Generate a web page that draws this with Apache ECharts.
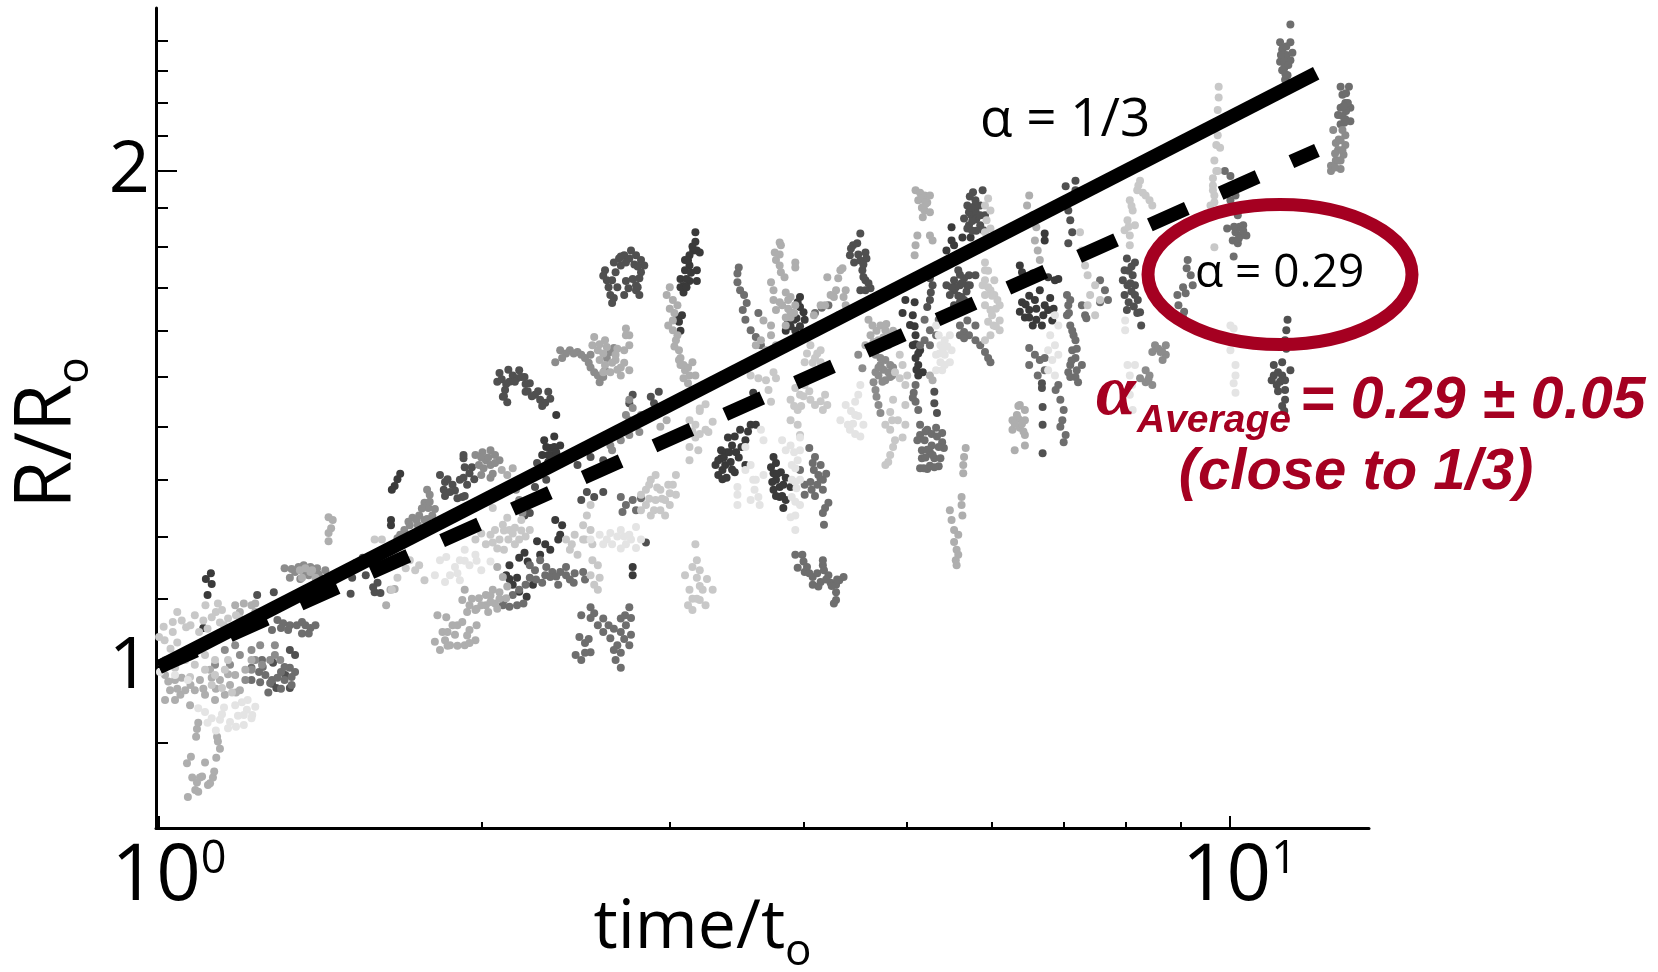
<!DOCTYPE html>
<html><head><meta charset="utf-8">
<style>html,body{margin:0;padding:0;background:#fff}#c{width:1658px;height:972px}</style>
<script src="https://cdn.jsdelivr.net/npm/echarts@6/dist/echarts.min.js"></script>
</head><body><div id="c"></div>
<script>
// Values: [time/t0, R/R0]
const gray1=[[1.118,1.14],[1.106,1.131],[1.12,1.123],[1.11,1.106],[1.10,1.056],[1.68,1.31],[1.67,1.30],[1.66,1.288],[1.65,1.281],[1.647,1.228],[1.647,1.219],[2.29,1.373],[2.34,1.38],[2.32,1.358],[2.37,1.363],[2.28,1.345],[2.33,1.345],[2.31,1.332],[2.35,1.422],[2.345,1.228],[2.38,1.219],[2.37,1.203],[2.36,1.195],[2.295,1.187],[2.32,1.178],[2.27,1.17],[2.255,1.192],[2.195,1.173],[2.17,1.165],[2.21,1.159],[2.125,1.153],[2.16,1.133],[2.125,1.131],[2.11,1.137],[2.14,1.122],[2.17,1.111],[2.205,1.103],[2.235,1.122],[2.77,1.15],[2.77,1.137],[3.17,1.836],[3.17,1.812],[3.155,1.79],[3.18,1.79],[3.13,1.778],[3.2,1.785],[3.1,1.766],[3.13,1.753],[3.18,1.741],[3.1,1.741],[3.07,1.72],[3.09,1.703],[3.13,1.715],[3.18,1.715],[3.09,1.688],[3.07,1.70],[3.05,1.63],[3.08,1.635],[3.06,1.62],[3.07,1.60],[3.97,1.677],[3.97,1.654],[3.94,1.628],[4.01,1.625],[3.89,1.61],[3.93,1.60],[3.85,1.60],[4.0,1.642],[3.57,1.403],[3.49,1.393],[3.45,1.38],[3.4,1.378],[3.43,1.363],[3.53,1.373],[3.35,1.354],[3.39,1.35],[3.35,1.339],[3.31,1.326],[3.38,1.326],[3.42,1.332],[3.36,1.317],[3.33,1.308],[3.39,1.303],[3.53,1.326],[3.45,1.313],[3.59,1.467],[3.61,1.403],[3.75,1.341],[3.73,1.322],[3.75,1.311],[3.81,1.313],[3.77,1.299],[3.8,1.286],[3.85,1.303],[3.75,1.281],[3.8,1.268],[3.85,1.263],[3.89,1.286],[3.83,1.249],[5.5,1.849],[5.63,1.823],[5.73,1.823],[5.5,1.815],[5.44,1.79],[5.53,1.803],[4.95,1.64],[4.98,1.67],[5.08,1.665],[5.06,1.635],[5.03,1.613],[5.09,1.59],[5.06,1.568],[5.14,1.557],[5.09,1.54],[5.12,1.525],[5.17,1.51],[5.12,1.503],[6.37,1.753],[6.4,1.736],[6.55,1.733],[6.4,1.665],[6.5,1.68],[6.65,1.693],[6.58,1.67],[6.72,1.658],[6.8,1.675],[6.87,1.717],[6.77,1.647],[6.5,1.647],[6.44,1.63],[6.55,1.612],[6.68,1.612],[6.37,1.643],[6.83,1.623],[6.77,1.724],[6.92,1.72],[6.72,1.833],[6.72,1.815],
[2.31,1.345],[2.34,1.36],[2.3,1.36],[2.35,1.35],[3.15,1.8],[3.12,1.765],[3.14,1.735],[3.11,1.72],[3.11,1.7],[3.37,1.34],[3.41,1.35],[3.46,1.35],[3.33,1.335],[3.36,1.3],[3.43,1.318],[3.48,1.34],[3.5,1.36],[3.55,1.39],[3.77,1.33],[3.78,1.31],[3.83,1.29],[3.77,1.27],[3.82,1.27],[3.74,1.295],[6.45,1.66],[6.6,1.65],[6.7,1.635],[6.6,1.625],[6.5,1.63],[6.85,1.65],[3.95,1.665],[3.92,1.625],[3.97,1.61],[3.87,1.62],[5.08,1.61],[5.09,1.57],[5.12,1.55],[5.1,1.515]];
const gray2=[[1.235,1.106],[1.28,1.11],[1.525,1.156],[1.55,1.165],[1.515,1.133],[1.56,1.137],[1.6,1.125],[1.59,1.11],[1.61,1.109],[1.585,1.118],[1.51,1.108],[1.278,1.006],[1.325,1.024],[1.34,1.017],[1.325,.971],[1.275,.977],[1.287,.971],[1.312,.989],[1.83,1.308],[1.85,1.295],[1.88,1.29],[1.91,1.299],[1.845,1.281],[1.87,1.277],[1.9,1.266],[1.92,1.268],[1.925,1.303],[1.925,1.345],[1.925,1.339],[1.93,1.322],[1.96,1.322],[1.95,1.311],[2.08,1.508],[2.07,1.49],[2.105,1.473],[2.095,1.459],[2.115,1.448],[2.14,1.503],[2.17,1.514],[2.195,1.5],[2.22,1.487],[2.2,1.469],[2.245,1.463],[2.27,1.453],[2.295,1.447],[2.31,1.469],[2.16,1.497],[2.125,1.49],[2.255,1.33],[2.245,1.286],[2.3,1.299],[2.195,1.236],[2.22,1.24],[2.51,1.277],[2.55,1.268],[2.6,1.277],[2.48,1.263],[2.46,1.326],[2.53,1.341],[2.6,1.335],[2.77,1.463],[2.75,1.446],[2.88,1.459],[2.93,1.469],[2.9,1.446],[2.85,1.19],[2.61,1.741],[2.6,1.728],[2.62,1.717],[2.69,1.77],[2.72,1.778],[2.73,1.76],[2.76,1.79],[2.79,1.778],[2.82,1.766],[2.84,1.753],[2.82,1.736],[2.81,1.722],[2.79,1.705],[2.70,1.753],[2.67,1.736],[2.65,1.717],[2.79,1.693],[2.81,1.682],[2.745,1.698],[2.64,1.682],[2.65,1.663],[2.72,1.682],[4.52,1.833],[4.49,1.808],[4.45,1.803],[4.42,1.778],[4.46,1.76],[4.57,1.785],[4.58,1.77],[4.54,1.741],[4.57,1.717],[4.62,1.698],[4.57,1.693],[4.52,1.693],[5.25,1.722],[5.28,1.705],[5.26,1.688],[5.25,1.67],[5.22,1.654],[5.76,1.942],[5.88,1.947],[5.79,1.92],[5.69,1.906],[5.85,1.906],[5.65,1.872],[5.74,1.88],[5.82,1.88],[5.91,1.88],[5.71,1.854],[5.85,1.854],[5.89,1.841],[5.69,1.846],[5.79,1.893],[5.71,1.888],[5.3,1.469],[5.3,1.446],[5.33,1.426],[5.58,1.741],[5.53,1.717],[5.65,1.722],[5.71,1.729],[5.6,1.705],[5.69,1.705],[5.79,1.729],[5.53,1.693],[5.62,1.677],[5.48,1.682],[5.44,1.705],[5.65,1.67],[5.53,1.658],[6.68,1.477],[6.69,1.438],[6.69,1.403],[6.69,1.348],[6.68,1.487],[7.03,1.958],[7.18,1.973],[7.18,1.947],[7.13,1.92],[7.07,1.893],[7.1,1.867],[7.13,1.836],[7.07,1.808],[8.02,1.77],[8.16,1.76],[7.98,1.741],[8.12,1.729],[8.03,1.705],[8.16,1.705],[7.98,1.682],[8.16,1.682],[7.95,1.717],[8.21,1.67],[8.25,1.642],[8.02,1.647],[8.27,1.612],[11.33,1.625],[11.3,1.601],[11.27,1.579],[11.0,1.525],[11.2,1.531],[11.0,1.503],[11.2,1.503],[11.07,1.483],[11.27,1.493],[11.4,1.514],[11.27,1.473],[11.27,1.453],[10.95,1.493],
[2.09,1.495],[2.11,1.485],[2.1,1.46],[2.15,1.49],[2.18,1.5],[2.21,1.47],[2.23,1.46],[2.26,1.47],[2.28,1.44],[2.32,1.455],[2.12,1.515],[2.2,1.485],[2.66,1.76],[2.7,1.775],[2.75,1.77],[2.78,1.755],[2.8,1.75],[2.63,1.7],[2.68,1.7],[2.77,1.72],[2.73,1.715],[2.8,1.7],[2.66,1.675],[5.6,1.73],[5.62,1.71],[5.55,1.7],[5.58,1.68],[5.68,1.69],[5.72,1.705],[5.6,1.665],[5.5,1.7],[5.72,1.93],[5.78,1.905],[5.74,1.9],[5.8,1.87],[5.75,1.865],[5.85,1.88],[5.8,1.84],[5.75,1.84],[8.05,1.74],[8.1,1.75],[8.08,1.71],[8.1,1.69],[8.05,1.665],[8.14,1.655],[8.2,1.64],[11.1,1.51],[11.15,1.49],[11.1,1.47],[11.3,1.56],[11.2,1.44],[11.25,1.43],[1.86,1.3],[1.89,1.28],[1.85,1.27],[1.94,1.29],[1.93,1.27],[1.97,1.3],[4.43,1.795],[4.5,1.78],[4.52,1.765],[4.55,1.755],[4.55,1.725],[4.6,1.71]];
const gray3=[[1.37,1.06],[1.385,1.056],[1.4,1.06],[1.38,1.048],[1.22,.999],[1.24,.993],[1.257,.989],[1.275,.982],[1.30,.993],[1.325,.999],[1.34,.993],[1.243,.979],[1.27,.978],[1.31,.982],[1.33,.986],[1.22,.982],[1.248,1.01],[1.29,1.068],[1.306,1.063],[1.325,1.06],[1.345,1.06],[1.36,1.065],[1.36,1.048],[1.32,1.053],[1.30,1.056],[1.275,1.053],[2.1,1.098],[2.14,1.106],[2.16,1.09],[2.19,1.093],[2.125,1.088],[2.095,1.09],[2.17,1.114],[2.27,1.161],[2.245,1.145],[2.22,1.133],[2.2,1.122],[2.295,1.137],[2.33,1.142],[2.37,1.142],[2.4,1.137],[2.445,1.14],[2.49,1.142],[2.42,1.13],[2.36,1.122],[2.32,1.134],[2.22,1.153],[2.53,1.087],[2.48,1.075],[2.53,1.071],[2.57,1.06],[2.6,1.05],[2.64,1.041],[2.68,1.031],[2.7,1.05],[2.725,1.075],[2.75,1.087],[2.76,1.071],[2.73,1.06],[2.75,1.031],[2.66,1.024],[2.67,1.01],[2.7,.999],[2.47,1.043],[2.5,1.034],[2.45,1.017],[2.53,1.021],[2.48,1.01],[2.76,1.046],[2.7,1.268],[2.73,1.254],[2.77,1.263],[2.79,1.245],[2.71,1.242],[2.82,1.266],[3.48,1.748],[3.47,1.733],[3.47,1.712],[3.49,1.693],[3.52,1.682],[3.54,1.663],[3.51,1.647],[3.53,1.625],[3.57,1.601],[3.61,1.586],[3.65,1.568],[3.63,1.64],[4.1,1.64],[4.16,1.652],[4.22,1.658],[4.05,1.358],[4.1,1.341],[4.15,1.326],[4.13,1.308],[4.09,1.317],[3.97,1.317],[4.01,1.29],[4.06,1.295],[4.07,1.281],[4.17,1.299],[4.17,1.281],[4.01,1.272],[4.22,1.258],[4.19,1.249],[4.17,1.24],[4.18,1.22],[3.93,1.17],[3.99,1.17],[4.0,1.159],[3.95,1.149],[4.01,1.142],[4.08,1.134],[4.17,1.153],[4.17,1.161],[4.22,1.137],[4.15,1.126],[4.24,1.125],[4.32,1.129],[4.36,1.134],[4.29,1.122],[4.08,1.122],[4.13,1.119],[4.29,1.11],[4.29,1.098],[4.27,1.093],[5.09,1.483],[5.07,1.467],[5.09,1.449],[5.12,1.432],[5.06,1.457],[5.14,1.403],[5.14,1.383],[5.11,1.373],[5.22,1.393],[5.32,1.397],[5.39,1.387],[5.19,1.373],[5.27,1.363],[5.39,1.369],[5.16,1.354],[5.25,1.35],[5.41,1.358],[5.16,1.339],[5.3,1.339],[5.37,1.339],[5.14,1.32],[5.22,1.319],[5.35,1.324],[5.19,1.625],[5.25,1.601],[5.19,1.579],[5.32,1.59],[5.35,1.625],[5.25,1.568],[5.14,1.568],[5.6,1.612],[5.65,1.597],[5.71,1.59],[5.79,1.612],[5.69,1.623],[5.6,1.59],[5.79,1.579],[5.65,1.583],[5.85,1.568],[5.91,1.553],[5.95,1.54],[5.98,1.531],[6.5,1.562],[6.58,1.547],[6.65,1.536],[6.72,1.514],[6.62,1.503],[6.5,1.525],[6.72,1.54],[7.05,1.682],[7.07,1.658],[7.05,1.635],[7.1,1.612],[7.15,1.59],[7.18,1.579],[7.13,1.557],[7.18,1.54],[7.1,1.525],[7.2,1.514],[7.28,1.525],[7.18,1.5],[7.07,1.51],[7.22,1.489],[6.92,1.483],[6.88,1.473],[6.95,1.453],[7.0,1.432],[6.98,1.412],[6.95,1.399],[7.03,1.383],[7.0,1.369],[7.57,1.717],[7.65,1.693],[7.7,1.67],[7.57,1.665],[7.28,1.658],[7.33,1.635],[7.35,1.628],[9.9,2.0],[10.02,1.986],[10.13,1.933],[10.02,1.92],[10.18,1.88],[10.3,1.854],[9.95,1.846],[10.13,1.836],[10.25,1.828],[10.37,1.828],[10.07,1.815],[10.18,1.808],[10.09,1.775],[9.14,1.766],[9.12,1.746],[9.2,1.729],[9.24,1.705],[9.05,1.7],[8.94,1.682],[9.1,1.686],[8.96,1.658],[9.07,1.643],[9.05,1.63],[11.4,2.455],[11.15,2.395],[11.4,2.395],[11.2,2.37],[11.3,2.352],[11.15,2.33],[11.4,2.335],[11.2,2.303],[11.33,2.287],[11.27,2.272],[11.17,2.352],[11.45,2.36],[12.7,2.25],[12.93,2.25],[12.75,2.225],[12.83,2.2],[12.7,2.185],[12.63,2.163],[12.83,2.15],[12.97,2.185],[12.7,2.135],[12.97,2.144],
[5.2,1.39],[5.27,1.385],[5.33,1.38],[5.22,1.355],[5.28,1.345],[5.35,1.36],[5.2,1.34],[5.25,1.325],[5.3,1.322],[5.18,1.32],[2.55,1.078],[2.6,1.07],[2.63,1.06],[2.66,1.055],[2.7,1.07],[2.72,1.04],[2.7,1.02],[2.5,1.02],[2.52,1.04],[4.03,1.15],[4.05,1.14],[4.12,1.14],[4.2,1.13],[4.25,1.12],[4.3,1.13],[4.18,1.145],[2.25,1.13],[2.28,1.125],[2.35,1.135],[2.4,1.15],[2.44,1.125],[2.5,1.13],[2.3,1.15],[4.08,1.33],[4.12,1.29],[4.15,1.3],[4.1,1.27],[4.2,1.31],[1.25,1.0],[1.29,.985],[1.33,.975],[1.265,.965],[1.3,.97],[1.31,1.0],[12.85,2.23],[12.85,2.175],[12.75,2.16],[12.9,2.2],[12.78,2.19],[12.8,2.14],[11.25,2.33],[11.25,2.31],[11.35,2.32],[11.22,2.375],[11.3,2.38],[11.28,2.29],[7.1,1.67],[7.08,1.64],[7.13,1.6],[7.2,1.56],[7.12,1.535],[7.1,1.5],[10.22,1.85],[10.15,1.845],[10.1,1.85],[10.3,1.84],[10.2,1.82]];
const gray4=[[1.128,1.003],[1.152,1.024],[1.19,1.017],[1.22,1.024],[1.243,1.031],[1.283,1.031],[1.27,1.01],[1.248,1.003],[1.22,.996],[1.204,.982],[1.165,1.003],[1.178,1.031],[1.298,1.01],[1.283,1.017],[1.23,1.01],[1.31,1.148],[1.34,1.142],[1.365,1.153],[1.385,1.15],[1.405,1.148],[1.43,1.145],[1.325,1.133],[1.355,1.131],[1.38,1.137],[1.4,1.137],[1.44,1.131],[1.77,1.258],[1.785,1.249],[1.8,1.236],[1.75,1.236],[1.77,1.228],[1.81,1.247],[1.725,1.232],[1.715,1.219],[1.745,1.219],[1.695,1.211],[1.68,1.203],[1.67,1.197],[1.78,1.281],[1.79,1.272],[1.975,1.345],[2.005,1.35],[2.04,1.354],[2.06,1.345],[2.02,1.335],[1.99,1.326],[2.04,1.326],[2.08,1.335],[2.0,1.308],[2.04,1.303],[2.155,1.281],[2.17,1.263],[2.185,1.24],[2.345,1.531],[2.37,1.557],[2.42,1.557],[2.46,1.553],[2.5,1.54],[2.53,1.52],[2.57,1.503],[2.58,1.489],[2.61,1.514],[2.53,1.547],[2.64,1.553],[2.66,1.562],[2.75,1.453],[2.77,1.436],[2.73,1.422],[2.75,1.412],[2.82,1.422],[2.79,1.403],[2.64,1.363],[2.70,1.373],[2.75,1.383],[2.81,1.389],[2.65,1.354],[12.5,2.118],[12.75,2.118],[12.83,2.103],[12.7,2.088],[12.57,2.08],[12.83,2.074],[12.63,2.06],[12.78,2.046],[12.57,2.03],[12.7,2.03],[12.44,2.015],[12.7,2.006],[12.44,2.0],[8.52,1.568],[8.72,1.568],[8.62,1.553],[8.66,1.536],[8.47,1.553],[8.72,1.547],[8.35,1.514],[8.42,1.503],[8.35,1.489],[8.47,1.483],[8.25,1.497],[4.67,1.547],[4.72,1.525],[4.77,1.536],[4.82,1.525],[4.7,1.503],[4.77,1.493],[4.67,1.51],[4.84,1.503],[4.67,1.473],[4.68,1.459],[4.7,1.442],[4.72,1.426],[4.65,1.489],[4.5,1.547],[4.54,1.518],
[1.33,1.147],[1.35,1.15],[1.41,1.138],[1.42,1.13],[1.37,1.14],[1.76,1.248],[1.74,1.228],[1.78,1.23],[1.71,1.225],[1.79,1.26],[1.69,1.2],[2.4,1.55],[2.44,1.55],[2.48,1.547],[2.52,1.53],[2.55,1.51],[2.38,1.54],[2.6,1.5],[2.62,1.54],[2.0,1.34],[2.03,1.34],[2.06,1.33],[2.01,1.32],[2.05,1.31],[4.72,1.54],[4.75,1.515],[4.8,1.51],[4.7,1.52],[4.74,1.49],[4.82,1.5],[4.85,1.52],[12.65,2.09],[12.75,2.06],[12.65,2.03],[12.55,2.01],[12.55,2.05],[8.58,1.56],[8.65,1.555],[8.4,1.495]];
const gray5=[[1.064,.834],[1.081,.842],[1.088,.84],[1.111,.848],[1.116,.85],[1.123,.857],[1.074,.857],[1.092,.857],[1.097,.858],[1.085,.851],[1.126,.864],[1.062,.874],[1.071,.882],[1.104,.875],[1.131,.881],[1.14,.892],[1.135,.901],[1.133,.907],[1.083,.907],[1.085,.917],[1.088,.925],[1.013,.989],[1.035,.982],[1.024,.968],[1.047,.962],[1.058,.968],[1.035,.955],[1.069,.948],[1.013,.955],[1.092,.982],[1.116,.996],[1.14,.982],[1.165,.975],[1.152,.962],[1.19,.968],[1.104,.962],[1.128,.955],[1.08,.968],[1.178,.989],[1.204,.996],[1.22,1.01],[1.178,1.09],[1.2,1.093],[1.22,1.09],[1.23,1.093],[1.19,1.08],[1.23,1.08],[1.44,1.233],[1.453,1.228],[1.448,1.214],[1.44,1.206],[1.44,1.192],[1.354,1.145],[1.37,1.148],[1.385,1.142],[1.4,1.133],[1.36,1.133],[1.39,1.145],[1.645,1.114],[1.66,1.115],[1.63,1.09],[2.09,1.317],[2.115,1.308],[2.14,1.32],[1.92,1.098],[1.95,1.09],[1.99,1.101],[2.02,1.106],[2.05,1.114],[2.08,1.11],[2.11,1.101],[1.94,1.08],[1.975,1.083],[2.02,1.09],[2.06,1.093],[1.93,1.114],[2.04,1.095],[2.07,1.15],[2.095,1.134],[2.115,1.119],[1.81,1.036],[1.83,1.024],[1.85,1.038],[1.88,1.06],[1.89,1.046],[1.92,1.065],[1.93,1.031],[1.95,1.053],[1.975,1.038],[1.84,1.05],[1.87,1.031],[1.82,1.075],[1.855,1.072],[1.95,1.034],[2.55,1.586],[2.54,1.568],[2.57,1.557],[2.61,1.579],[2.62,1.564],[2.73,1.605],[2.75,1.59],[2.73,1.59],[2.58,1.536],[2.61,1.525],[2.67,1.536],[2.70,1.52],[2.75,1.514],[2.67,1.547],[2.72,1.557],[2.75,1.568],[2.70,1.503],[2.64,1.51],[3.0,1.70],[2.98,1.682],[3.02,1.67],[3.05,1.658],[3.02,1.623],[2.99,1.612],[3.02,1.601],[3.05,1.59],[3.04,1.579],[3.06,1.557],[3.07,1.54],[3.07,1.525],[3.1,1.514],[3.13,1.503],[3.15,1.531],[3.17,1.503],[3.06,1.536],[3.09,1.497],[3.12,1.487],[2.94,1.399],[2.98,1.412],[3.73,1.612],[3.67,1.623],[3.73,1.59],[3.65,1.579],[3.77,1.568],[3.69,1.557],[3.61,1.568],[3.8,1.81],[3.81,1.803],[3.76,1.785],[3.77,1.766],[3.8,1.753],[3.81,1.736],[3.84,1.724],[3.93,1.76],[3.93,1.748],[3.73,1.712],[3.75,1.693],[3.75,1.67],[3.77,1.647],[3.85,1.688],[3.89,1.677],[3.82,1.658],[3.89,1.642],[3.93,1.658],[3.89,1.63],[3.85,1.612],[4.21,1.724],[4.33,1.741],[4.36,1.677],[4.29,1.693],[4.38,1.658],[4.31,1.635],[4.27,1.677],[4.15,1.658],[4.09,1.635],[4.35,1.746],[4.31,1.722],[4.24,1.682],[4.19,1.658],[4.38,1.693],[4.6,1.625],[4.64,1.612],[4.62,1.59],[4.72,1.612],[4.77,1.601],[4.82,1.59],[4.7,1.579],[4.8,1.568],[4.57,1.568],[5.09,1.947],[5.14,1.94],[5.19,1.933],[5.25,1.933],[5.12,1.92],[5.22,1.914],[5.19,1.893],[5.17,1.875],[5.25,1.888],[5.11,1.828],[5.09,1.803],[5.08,1.778],[5.25,1.828],[5.28,1.815],[5.25,1.503],[5.28,1.493],[6.37,1.442],[6.44,1.432],[6.33,1.422],[6.44,1.412],[6.27,1.412],[6.37,1.397],[6.27,1.393],[6.44,1.383],[6.44,1.363],[6.3,1.354],[6.5,1.933],[6.47,1.906],[6.55,1.88],[6.6,1.849],[6.58,1.815],[6.62,1.79],[6.65,1.766],[5.67,1.358],[5.65,1.341],[5.64,1.326],[5.64,1.311],[5.62,1.268],[5.62,1.254],[5.63,1.236],[5.48,1.245],[5.5,1.228],[5.53,1.211],[5.58,1.203],[5.53,1.191],[5.56,1.178],[5.58,1.17],[5.55,1.161],[5.56,1.153],
[1.96,1.1],[2.0,1.09],[2.04,1.105],[2.08,1.1],[1.98,1.085],[2.03,1.08],[2.07,1.085],[1.86,1.05],[1.9,1.03],[1.9,1.06],[1.94,1.045],[1.86,1.03],[1.98,1.06],[2.6,1.55],[2.65,1.53],[2.68,1.515],[2.72,1.53],[2.6,1.51],[2.68,1.56],[2.58,1.57],[4.68,1.6],[4.75,1.585],[4.65,1.575],[4.72,1.57],[4.78,1.615],[4.85,1.6],[3.03,1.64],[3.0,1.65],[3.03,1.565],[3.09,1.525],[3.12,1.52],[1.05,.985],[1.07,.975],[1.1,.97],[1.13,.97],[1.16,.99],[1.18,.965],[1.04,.97],[1.02,.98],[1.12,.985],[5.15,1.925],[5.2,1.915],[5.2,1.91],[5.16,1.9],[6.35,1.415],[6.4,1.405],[6.3,1.405],[6.42,1.39],[6.35,1.44],[3.8,1.78],[3.8,1.665],[3.87,1.65],[3.87,1.67],[3.92,1.64],[3.85,1.63]];
const gray6=[[1.01,1.058],[1.03,1.05],[1.05,1.067],[1.06,1.057],[1.08,1.075],[1.10,1.067],[1.12,1.072],[1.14,1.064],[1.135,1.093],[1.105,1.09],[1.145,1.083],[1.18,1.075],[1.19,1.07],[1.012,1.038],[1.04,1.035],[1.025,1.026],[1.0,1.043],[1.15,1.06],[1.165,1.05],[1.2,1.06],[1.058,1.01],[1.08,1.003],[1.104,.996],[1.128,.989],[1.152,.996],[1.104,1.017],[1.128,1.01],[1.16,1.01],[1.145,.971],[1.12,.975],[1.035,.999],[1.013,1.01],[1.069,.986],[1.17,.965],[1.59,1.195],[1.615,1.195],[1.66,1.17],[1.715,1.161],[1.75,1.153],[1.77,1.129],[1.735,1.145],[1.7,1.148],[1.67,1.133],[1.65,1.114],[1.975,1.195],[2.02,1.187],[2.06,1.211],[2.08,1.195],[2.1,1.178],[2.04,1.203],[2.15,1.187],[2.125,1.211],[2.17,1.195],[2.22,1.211],[2.18,1.228],[2.115,1.232],[2.05,1.249],[2.095,1.22],[2.53,1.254],[2.51,1.236],[2.49,1.219],[2.53,1.211],[2.5,1.195],[2.54,1.187],[2.54,1.161],[2.57,1.153],[2.53,1.137],[2.58,1.133],[2.55,1.122],[2.57,1.114],[2.4,1.195],[2.445,1.203],[2.49,1.195],[2.42,1.178],[2.46,1.17],[2.43,1.187],[2.82,1.272],[2.88,1.299],[2.91,1.308],[2.85,1.281],[2.94,1.281],[2.97,1.263],[3.02,1.29],[3.04,1.308],[2.91,1.263],[2.97,1.236],[2.85,1.254],[2.82,1.245],[2.88,1.236],[2.94,1.245],[3.0,1.254],[3.04,1.272],[3.57,1.503],[3.63,1.497],[3.69,1.493],[3.75,1.51],[3.77,1.497],[3.73,1.449],[3.71,1.473],[4.06,1.568],[4.15,1.557],[4.1,1.54],[4.01,1.531],[4.15,1.531],[3.93,1.477],[3.97,1.463],[3.89,1.453],[3.95,1.432],[4.06,1.453],[4.19,1.463],[4.21,1.442],[4.1,1.442],[4.01,1.483],[3.89,1.412],[3.95,1.403],[3.97,1.383],[4.17,1.432],[3.24,1.444],[3.2,1.43],[3.29,1.409],[3.24,1.393],[3.17,1.378],[3.13,1.36],[3.26,1.389],[3.13,1.412],[3.17,1.403],[3.19,1.354],[3.13,1.335],[3.17,1.187],[3.18,1.161],[3.2,1.145],[3.25,1.131],[3.29,1.114],[3.2,1.098],[3.24,1.09],[3.1,1.137],[3.13,1.114],[3.12,1.09],[3.15,1.083],[3.18,1.133],[3.22,1.114],[4.85,1.453],[4.82,1.428],[4.77,1.403],[4.82,1.393],[4.87,1.373],[4.85,1.36],[4.82,1.345],[4.8,1.332],[4.77,1.326],[4.84,1.412],[4.9,1.412],[4.98,1.442],[4.98,1.403],[4.95,1.378],[5.95,1.925],[5.91,1.906],[5.98,1.893],[5.93,1.867],[5.98,1.846],[5.91,1.836],[4.92,1.547],[4.95,1.525],[5.0,1.503],[4.92,1.497],[4.98,1.483],[4.87,1.51],[5.91,1.76],[5.91,1.741],[5.91,1.717],[5.88,1.705],[5.98,1.693],[5.91,1.682],[6.03,1.717],[6.03,1.682],[5.91,1.658],[5.98,1.647],[6.07,1.67],[6.1,1.658],[6.0,1.635],[6.1,1.623],[6.02,1.612],[6.1,1.601],[5.98,1.59],[5.91,1.579],[7.25,1.836],[7.28,1.79],[7.33,1.753],[7.37,1.729],[7.49,1.705],[7.41,1.682],[7.57,1.67],[7.37,1.658],[7.49,1.635],[8.25,1.973],[8.2,1.947],[8.35,1.933],[8.42,1.92],[8.47,1.906],[8.07,1.92],[8.12,1.893],[8.03,1.867],[7.98,1.841],[8.16,1.854],[8.07,1.828],[8.07,1.803],[9.77,2.25],[9.77,2.217],[9.75,2.178],[9.75,2.103],[9.72,2.074],[9.8,2.066],[9.68,2.03],[9.75,2.0],[9.65,1.96],[9.68,1.933],[9.6,1.906],[9.65,1.947],[9.68,1.798],
[2.0,1.205],[2.05,1.19],[2.1,1.21],[2.12,1.195],[2.14,1.205],[2.2,1.2],[2.07,1.18],[2.15,1.215],[2.18,1.21],[2.87,1.265],[2.92,1.285],[2.95,1.265],[2.9,1.245],[3.0,1.275],[2.99,1.29],[2.87,1.29],[4.0,1.46],[4.05,1.47],[3.92,1.44],[4.15,1.45],[3.98,1.44],[4.12,1.55],[4.08,1.53],[4.03,1.55],[5.95,1.74],[5.95,1.7],[6.0,1.68],[6.05,1.65],[6.05,1.61],[5.95,1.62],[9.72,2.0],[9.65,1.98],[9.68,1.915],[1.03,1.065],[1.07,1.06],[1.09,1.05],[1.11,1.055],[1.13,1.08],[1.16,1.07],[1.04,1.08],[3.15,1.15],[3.2,1.12],[3.15,1.1],[3.18,1.1],[3.2,1.435],[3.2,1.385],[3.15,1.39],[8.22,1.96],[8.3,1.94],[8.1,1.905],[8.05,1.85]];
const gray7=[[1.088,.944],[1.104,.939],[1.12,.931],[1.14,.929],[1.165,.926],[1.185,.934],[1.208,.942],[1.23,.946],[1.22,.931],[1.2,.922],[1.16,.918],[1.145,.936],[1.178,.948],[1.195,.952],[1.222,.935],[1.002,.993],[1.035,.989],[1.064,.982],[1.83,1.161],[1.855,1.166],[1.91,1.161],[1.95,1.153],[2.0,1.145],[1.87,1.137],[1.85,1.126],[1.91,1.129],[2.04,1.159],[1.975,1.17],[1.93,1.178],[1.81,1.137],[2.58,1.203],[2.64,1.206],[2.70,1.211],[2.75,1.203],[2.79,1.216],[2.73,1.187],[2.79,1.181],[2.65,1.187],[2.6,1.187],[2.82,1.195],[2.53,1.195],[4.52,1.483],[4.5,1.463],[4.38,1.442],[4.33,1.412],[4.47,1.422],[4.55,1.403],[4.42,1.393],[4.52,1.38],[4.4,1.403],[4.47,1.449],[3.65,1.393],[3.67,1.373],[3.53,1.36],[3.57,1.326],[3.53,1.317],[3.47,1.286],[3.47,1.272],[3.47,1.254],[3.61,1.299],[3.6,1.281],[3.63,1.268],[3.57,1.263],[3.59,1.299],[3.64,1.254],[3.67,1.308],[3.82,1.373],[3.85,1.354],[3.89,1.363],[3.97,1.378],[3.97,1.354],[3.95,1.335],[3.9,1.326],[3.9,1.299],[3.97,1.299],[3.94,1.284],[3.9,1.268],[3.97,1.254],[3.93,1.236],[3.89,1.233],[3.93,1.211],[5.32,1.612],[5.35,1.59],[5.37,1.568],[5.42,1.579],[5.48,1.59],[5.32,1.547],[5.42,1.547],[5.5,1.557],[5.37,1.531],[5.48,1.531],[5.39,1.514],[5.32,1.514],[6.87,1.635],[6.92,1.612],[6.8,1.59],[6.87,1.568],[6.77,1.557],[6.83,1.536],[6.92,1.547],[6.77,1.514],[6.87,1.503],[7.99,1.623],[7.99,1.601],[10.02,1.612],[10.09,1.605],[9.98,1.579],[10.02,1.557],[10.13,1.525],[10.13,1.503],[10.09,1.487],[10.13,1.467],[8.16,1.525],[8.07,1.503],[8.11,1.483],[8.07,1.463],[8.12,1.432],[8.03,1.525],
[1.11,.925],[1.13,.915],[1.18,.92],[1.2,.935],[1.15,.945],[1.21,.955],[2.62,1.195],[2.68,1.2],[2.72,1.2],[2.76,1.195],[2.7,1.18],[3.92,1.35],[3.93,1.32],[3.93,1.295],[3.93,1.26],[1.89,1.15],[1.93,1.16],[1.98,1.16],[1.9,1.14],[5.4,1.56],[5.45,1.565],[5.36,1.55],[5.42,1.525],[4.45,1.405],[4.5,1.42],[4.43,1.43],[4.47,1.385]];
const grayGroups=[gray1,gray2,gray3,gray4,gray5,gray6,gray7];
const grayColors=['#3a3a3a','#505050','#6e6e6e','#8c8c8c','#aeaeae','#c8c8c8','#e4e4e4'];
const solidLine=[[1,1],[12.05,2.293]];   // alpha = 1/3
const dashedLine=[[1,1],[12.07,2.059]];  // alpha = 0.29
const xMajor=[1,10], xMinor=[2,3,4,5,6,7,8,9];
const yMajor=[1,2], yMinor=[0.9,1.1,1.2,1.3,1.4,1.5,1.6,1.7,1.8,1.9,2.1,2.2,2.3,2.4];
const xRange=[0.9935,13.5], yRange=[0.7985,2.512];
const RED='#a50021', INK='#000', SANS='"Open Sans"';

const grid={left:156,top:8,width:1213,height:820,outerBoundsMode:'none',containLabel:false};
const axisBase=(extra)=>Object.assign({type:'log',logBase:10,splitLine:{show:false},minorTick:{show:false},minorSplitLine:{show:false}},extra);
const chart=echarts.init(document.getElementById('c'));
chart.setOption({
  animation:false,backgroundColor:'#fff',grid,
  xAxis:[
    axisBase({min:xRange[0],max:xRange[1],position:'bottom',
      axisLine:{show:true,onZero:false,lineStyle:{color:INK,width:3}},
      axisTick:{show:true,inside:true,length:12,customValues:xMajor,lineStyle:{color:INK,width:2}},
      axisLabel:{show:true,customValues:xMajor,margin:10,hideOverlap:false,
        formatter:v=>(v>=5?'{b|10}{s|1}':'{b|10}{s|0}'),
        rich:{b:{fontFamily:SANS,fontSize:78,lineHeight:80,color:INK,padding:[0,0,0,20]},s:{fontFamily:SANS,fontSize:45,verticalAlign:'top',color:INK}}},
      name:'{b|time/t}{s|o}',nameLocation:'middle',nameGap:56,nameMoveOverlap:false,
      nameTextStyle:{rich:{b:{fontFamily:SANS,fontSize:68,lineHeight:90,color:INK},s:{fontFamily:SANS,fontSize:44,verticalAlign:'bottom',color:INK,padding:[0,120,0,0]}}}}),
    axisBase({min:xRange[0],max:xRange[1],position:'bottom',
      axisLine:{show:false},axisLabel:{show:false},
      axisTick:{show:true,inside:true,length:6,customValues:xMinor,lineStyle:{color:INK,width:2}}})
  ],
  yAxis:[
    axisBase({min:yRange[0],max:yRange[1],position:'left',
      axisLine:{show:true,onZero:false,lineStyle:{color:INK,width:3}},
      axisTick:{show:true,inside:true,length:21,customValues:yMajor,lineStyle:{color:INK,width:2}},
      axisLabel:{show:true,customValues:yMajor,margin:6,hideOverlap:false,
        formatter:v=>(v>1.5?'2':'1'),fontFamily:SANS,fontSize:72,color:INK},
      name:'{b|R/R}{s|o}',nameLocation:'middle',nameRotate:90,nameGap:59,nameMoveOverlap:false,
      nameTextStyle:{rich:{b:{fontFamily:SANS,fontSize:78,lineHeight:96,color:INK},s:{fontFamily:SANS,fontSize:44,verticalAlign:'bottom',color:INK,padding:[0,30,0,0]}}}}),
    axisBase({min:yRange[0],max:yRange[1],position:'left',
      axisLine:{show:false},axisLabel:{show:false},
      axisTick:{show:true,inside:true,length:12,customValues:yMinor,lineStyle:{color:INK,width:2}}})
  ],
  series:grayGroups.map((d,i)=>({type:'scatter',data:d,symbolSize:8,itemStyle:{color:grayColors[i],opacity:1},silent:true,large:false}))
   .concat([
    {type:'line',data:solidLine,showSymbol:false,symbol:'none',z:5,silent:true,lineStyle:{color:'#000',width:14,cap:'butt'}},
    {type:'line',data:dashedLine,showSymbol:false,symbol:'none',z:5,silent:true,lineStyle:{color:'#000',width:14,cap:'butt',type:[40.5,37]}}
   ]),
  graphic:[
    {type:'ellipse',z:100,shape:{cx:1280,cy:274.5,rx:132,ry:70},style:{fill:'none',stroke:RED,lineWidth:13}},
    {type:'text',z:101,x:980,y:121,style:{text:'α = 1/3',font:'53px "Open Sans"',fill:INK,verticalAlign:'middle'}},
    {type:'text',z:101,x:1195,y:274,style:{text:'α = 0.29',font:'46px "Open Sans"',fill:INK,verticalAlign:'middle'}},
    {type:'text',z:101,x:1096,y:395,style:{text:'α',font:'italic bold 72px "Liberation Serif"',fill:RED,verticalAlign:'middle'}},
    {type:'text',z:101,x:1137,y:421,style:{text:'Average',font:'italic bold 39px "Liberation Sans"',fill:RED,verticalAlign:'middle'}},
    {type:'text',z:101,x:1300,y:402,style:{text:'= 0.29 ± 0.05',font:'italic bold 59px "Liberation Sans"',fill:RED,verticalAlign:'middle'}},
    {type:'text',z:101,x:1356,y:473,style:{text:'(close to 1/3)',font:'italic bold 58px "Liberation Sans"',fill:RED,align:'center',verticalAlign:'middle'}}
  ]
});
</script></body></html>
